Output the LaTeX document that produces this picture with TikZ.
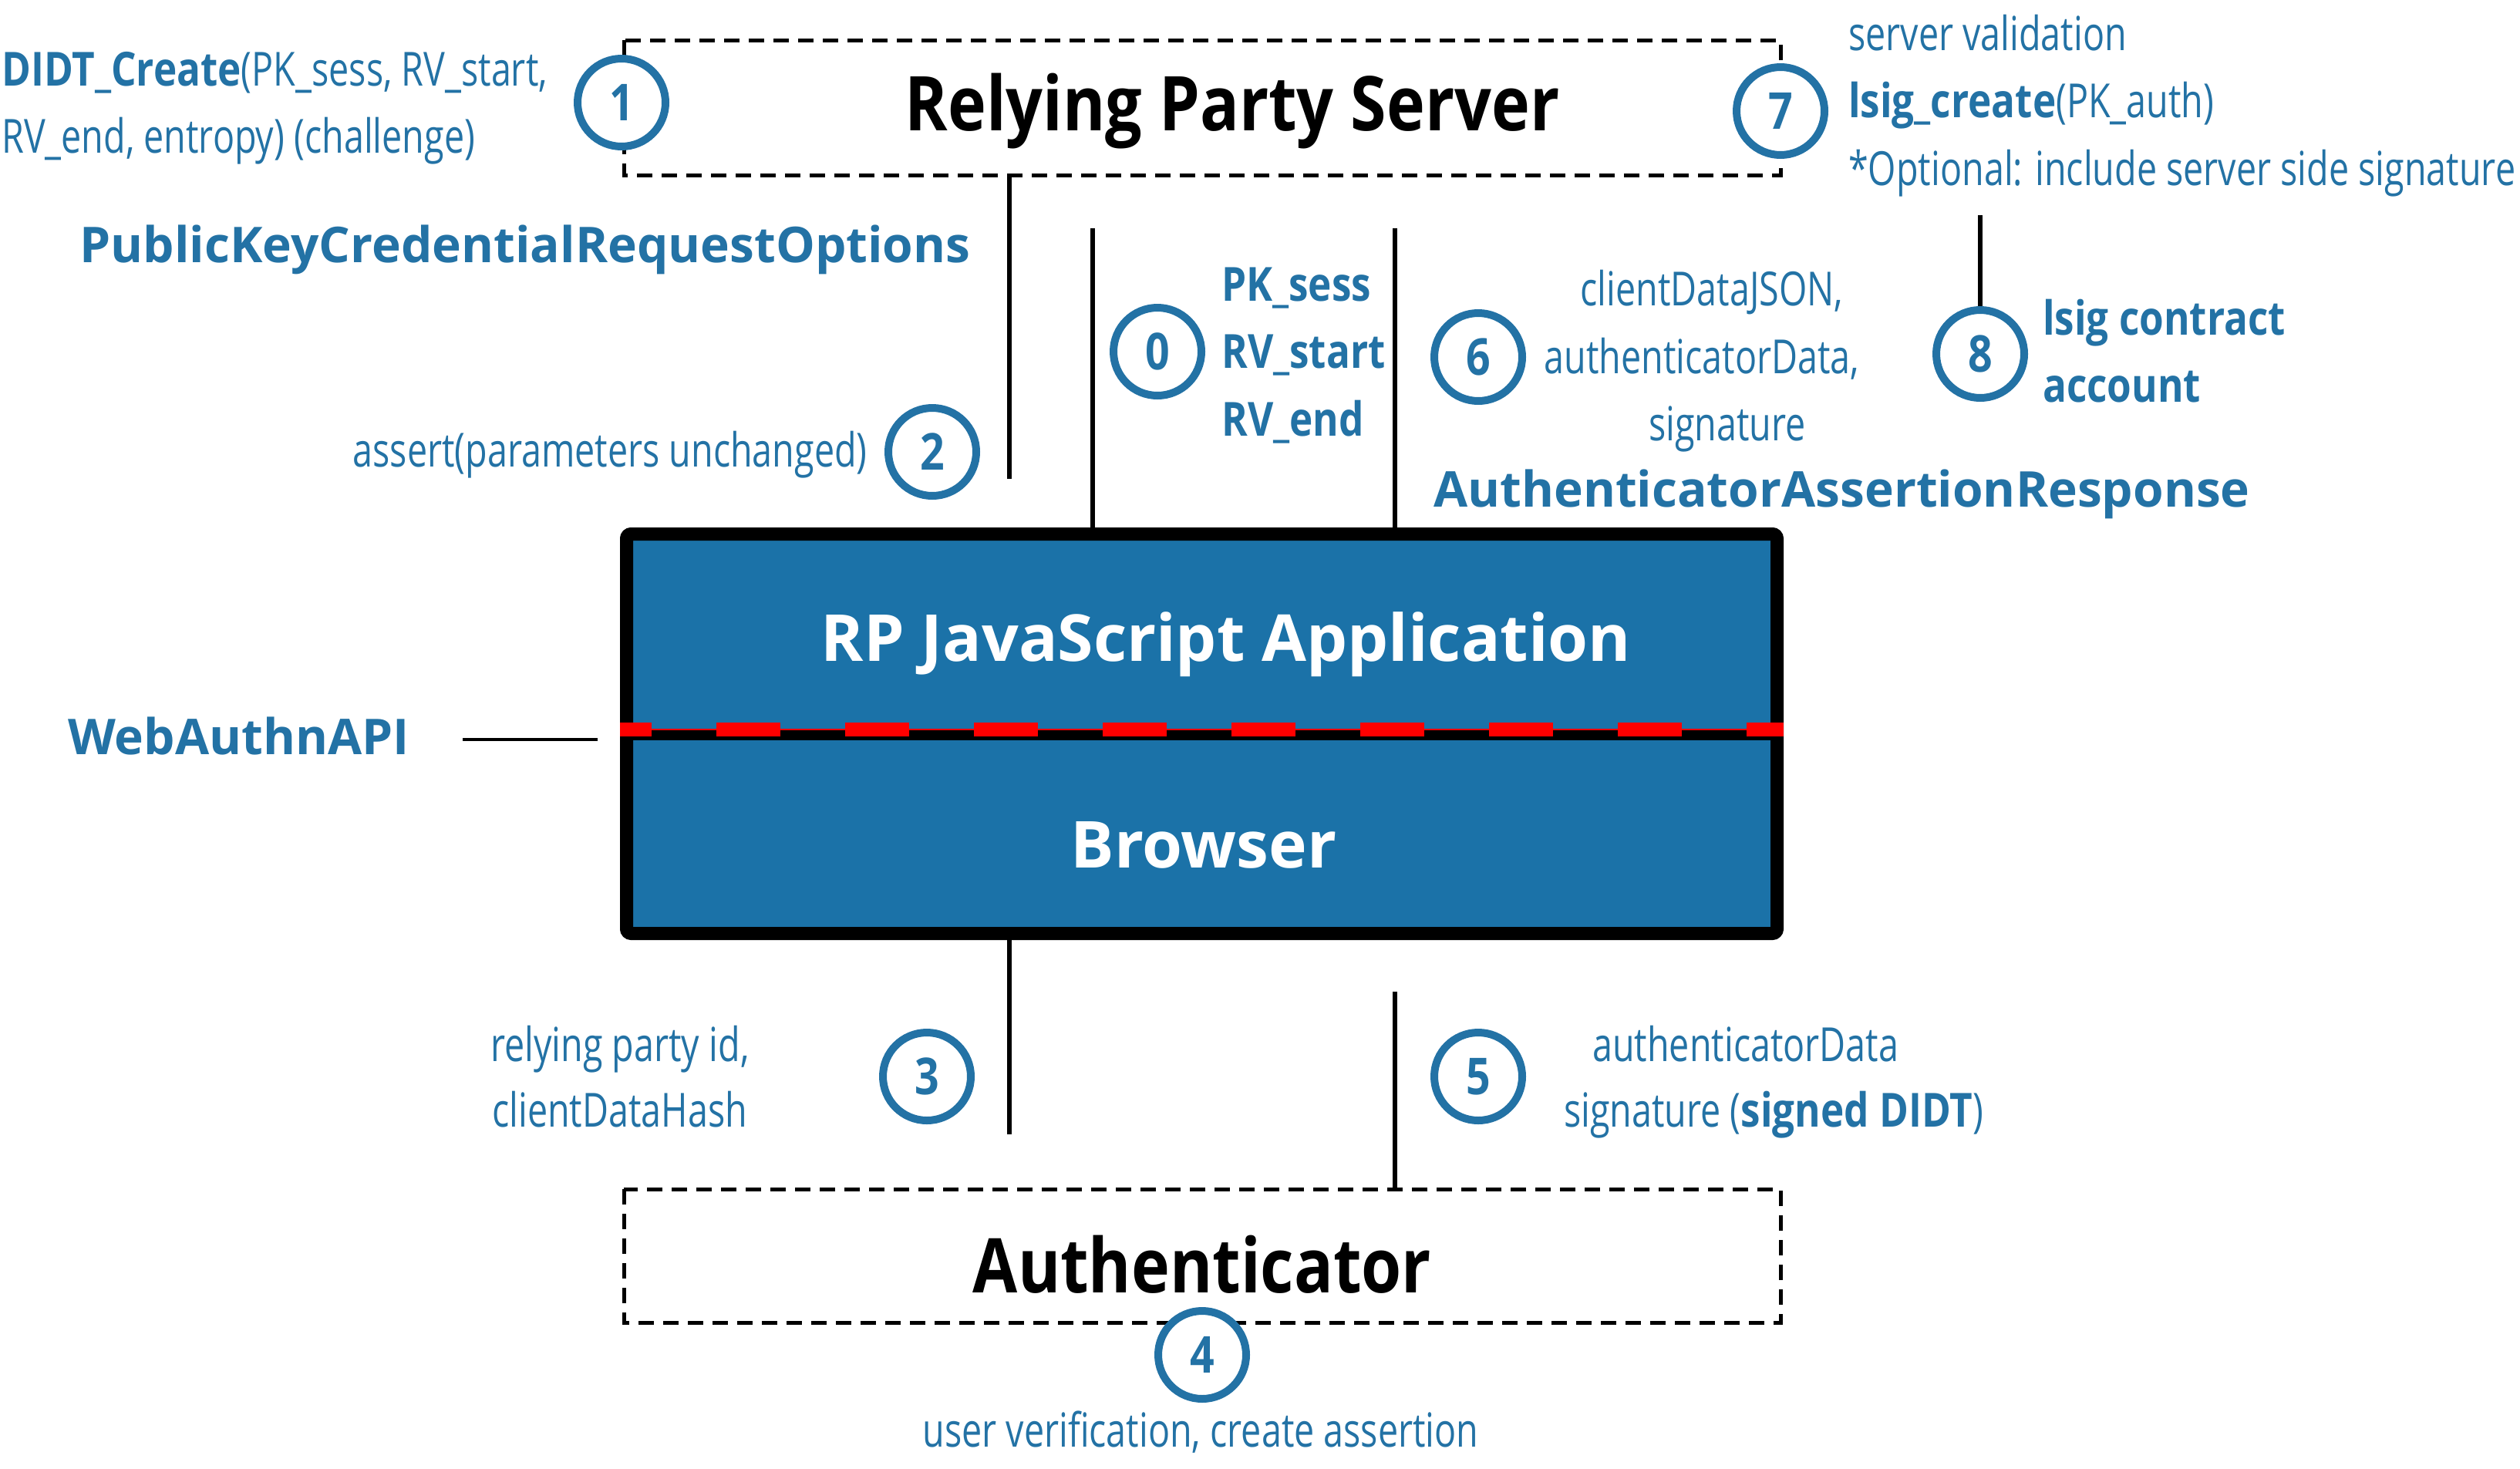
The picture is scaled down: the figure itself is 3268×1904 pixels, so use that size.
\documentclass[tikz,border=0pt]{standalone}
\usepackage{fontspec}
\setmainfont{Open Sans}
\newfontfamily\condf[FakeStretch=0.765]{Open Sans}
\newfontfamily\condb[FakeStretch=0.84]{Open Sans}
\newfontfamily\headf[FakeStretch=0.86]{Open Sans}
\definecolor{lblue}{HTML}{2372A5}
\definecolor{boxblue}{HTML}{1B72A8}
\definecolor{dred}{HTML}{FF0000}
\newcommand{\bt}[1]{{\condb\bfseries #1}}
\tikzset{
  lab/.style={text=lblue, font=\condf\fontsize{61}{61}\selectfont, inner sep=0pt},
  labb/.style={text=lblue, font=\condb\bfseries\fontsize{61}{61}\selectfont, inner sep=0pt},
  biglab/.style={text=lblue, font=\bfseries\fontsize{64}{64}\selectfont, inner sep=0pt},
  numc/.style={circle, draw=lblue, line width=10pt, fill=white, minimum size=114pt, inner sep=0pt, text=lblue, font=\condb\bfseries\fontsize{66}{66}\selectfont},
  dbox/.style={draw=black, line width=5pt, dash pattern=on 20pt off 12pt},
  conn/.style={draw=black, line width=6pt},
  title/.style={text=black, font=\headf\bfseries\fontsize{98}{98}\selectfont, inner sep=0pt},
  wtitle/.style={text=white, font=\bfseries\fontsize{84}{84}\selectfont, inner sep=0pt}
}
\begin{document}
\begin{tikzpicture}[x=1pt, y=-1pt]
\useasboundingbox (0,0) rectangle (3268,1904);
% dashed boxes
\draw[dbox] (809,52) rectangle (2309,227);
\node[title] (rps) at (1598,144) {Relying Party Server};
\draw[dbox] (809,1542) rectangle (2309,1715);
\node[title] (auth) at (1559,1640) {Authenticator};
% coordinates for connectors
\coordinate (a1) at (1309,227);  \coordinate (a2) at (1309,621);
\coordinate (b1) at (1417,296);  \coordinate (b2) at (1417,684);
\coordinate (c1) at (1809,296);  \coordinate (c2) at (1809,684);
\coordinate (d1) at (1309,1219); \coordinate (d2) at (1309,1471);
\coordinate (e1) at (1809,1286); \coordinate (e2) at (1809,1542);
\coordinate (w1) at (600,959);   \coordinate (w2) at (775,959);
\coordinate (t8) at (2568,279);
\draw[conn] (a1) -- (a2);
\draw[conn] (b1) -- (b2);
\draw[conn] (c1) -- (c2);
\draw[conn] (d1) -- (d2);
\draw[conn] (e1) -- (e2);
\draw[black, line width=4pt] (w1) -- (w2);
% main box
\node[draw=black, fill=boxblue, line width=17pt, rounded corners=6pt, minimum width=1492pt, minimum height=518pt, inner sep=0pt] (mainbox) at (1558.5,951.5) {};
\coordinate (dv1) at (812,953); \coordinate (dv2) at (2305,953);
\draw[black, line width=14pt] (dv1) -- (dv2);
\coordinate (rd1) at (804,946); \coordinate (rd2) at (2313,946);
\draw[dred, line width=2pt] (rd1) -- (rd2);
\draw[dred, line width=18pt, dash pattern=on 83pt off 84pt, dash phase=42pt] (rd1) -- (rd2);
\node[wtitle] (rpjs) at (1590,836) {RP JavaScript Application};
\node[wtitle] (brw) at (1561,1096) {Browser};
% circles
\node[numc] (n1) at (806,133) {1};
\node[numc] (n7) at (2309,144) {7};
\node[numc] (n2) at (1209,586) {2};
\node[numc] (n0) at (1501,456) {0};
\node[numc] (n6) at (1917,463) {6};
\node[numc] (n8) at (2568,459) {8};
\draw[conn] (t8) -- (n8);
\node[numc] (n3) at (1202,1396) {3};
\node[numc] (n5) at (1917,1396) {5};
\node[numc] (n4) at (1559,1757) {4};
% labels
\node[lab, anchor=mid west] (l1a) at (2,109) {\bt{DIDT\_Create}(PK\_sess, RV\_start,};
\node[lab, anchor=mid west] (l1b) at (2,196) {RV\_end, entropy) (challenge)};
\node[lab, anchor=mid west] (l7a) at (2397,63) {server validation};
\node[lab, anchor=mid west] (l7b) at (2397,150) {\bt{lsig\_create}(PK\_auth)};
\node[lab, anchor=mid west] (l7c) at (2397,238) {*Optional: include server side signature};
\node[biglab, anchor=mid] (pkcro) at (681,338) {PublicKeyCredentialRequestOptions};
\node[lab, anchor=mid east] (l2) at (1125,603) {assert(parameters unchanged)};
\node[labb, anchor=mid west] (l0a) at (1584,388) {PK\_sess};
\node[labb, anchor=mid west] (l0b) at (1584,475) {RV\_start};
\node[labb, anchor=mid west] (l0c) at (1584,563) {RV\_end};
\node[lab, anchor=mid] (l6a) at (2220,394) {clientDataJSON,};
\node[lab, anchor=mid] (l6b) at (2207,482) {authenticatorData,};
\node[lab, anchor=mid] (l6c) at (2240,569) {signature};
\node[biglab, anchor=mid west] (aar) at (1859,655) {AuthenticatorAssertionResponse};
\node[labb, anchor=mid west] (l8a) at (2649,432) {lsig contract};
\node[labb, anchor=mid west] (l8b) at (2649,519) {account};
\node[biglab, anchor=mid west] (wapi) at (88,976) {WebAuthnAPI};
\node[lab, anchor=mid west] (l3a) at (636,1374) {relying party id,};
\node[lab, anchor=mid west] (l3b) at (638,1459) {clientDataHash};
\node[lab, anchor=mid west] (l5a) at (2065,1374) {authenticatorData};
\node[lab, anchor=mid west] (l5b) at (2028,1459) {signature (\bt{signed DIDT})};
\node[lab, anchor=mid] (l4) at (1557,1874) {user verification, create assertion};
\end{tikzpicture}
\end{document}
